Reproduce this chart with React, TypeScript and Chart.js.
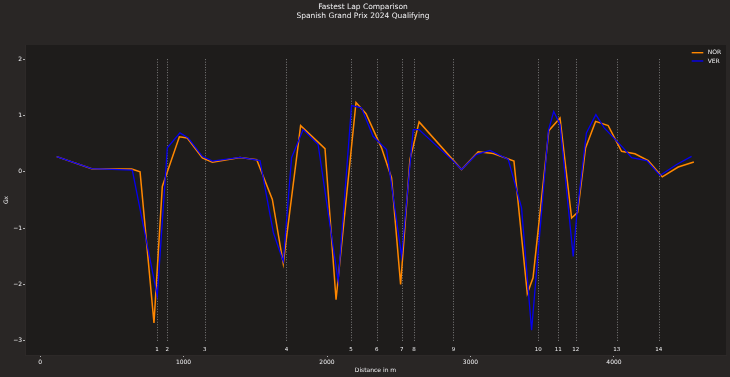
import React, { useEffect, useRef } from "react";
import { Chart, registerables } from "chart.js";

Chart.register(...registerables);

// ---- data ----
const TITLE_LINES = ["Fastest Lap Comparison", "Spanish Grand Prix 2024 Qualifying"];
const X_LABEL = "Distance in m";
const Y_LABEL = "Gx";

const DRIVERS = ["NOR", "VER"];
const DRIVER_COLORS = ["#ff8700", "#0600ef"];

const NOR_DIST = [116, 360, 639, 697, 794, 852, 971, 1026, 1131, 1201, 1394, 1510, 1619, 1695, 1816, 1986, 2063, 2202, 2272, 2380, 2450, 2513, 2578, 2642, 2938, 3054, 3159, 3303, 3396, 3436, 3546, 3624, 3705, 3747, 3802, 3872, 3960, 4053, 4146, 4239, 4337, 4448, 4557];
const NOR_GX = [0.27, 0.055, 0.05, 0.0, -2.68, -0.26, 0.62, 0.6, 0.245, 0.17, 0.255, 0.215, -0.49, -1.63, 0.82, 0.41, -2.27, 1.23, 1.03, 0.425, -0.11, -2.0, 0.215, 0.885, 0.04, 0.355, 0.325, 0.19, -2.16, -1.88, 0.73, 0.955, -0.82, -0.72, 0.425, 0.895, 0.82, 0.365, 0.32, 0.2, -0.09, 0.085, 0.175];

const VER_DIST = [116, 360, 643, 817, 887, 975, 1033, 1131, 1201, 1394, 1533, 1626, 1695, 1753, 1834, 1938, 2078, 2171, 2240, 2321, 2415, 2520, 2601, 2641, 2880, 2938, 3043, 3136, 3263, 3356, 3426, 3543, 3580, 3624, 3716, 3740, 3808, 3874, 3932, 4064, 4123, 4228, 4321, 4437, 4541];
const VER_GX = [0.27, 0.055, 0.03, -2.2, 0.425, 0.69, 0.6, 0.275, 0.19, 0.255, 0.2, -1.08, -1.59, 0.25, 0.75, 0.485, -1.94, 1.175, 1.135, 0.63, 0.395, -1.5, 0.75, 0.75, 0.19, 0.04, 0.31, 0.38, 0.22, -0.64, -2.81, 0.73, 1.07, 0.84, -1.5, -0.79, 0.69, 1.015, 0.78, 0.425, 0.25, 0.2, -0.065, 0.13, 0.275];

const CORNER_LABELS = ["1", "2", "3", "4", "5", "6", "7", "8", "9", "10", "11", "12", "13", "14"];
const CORNER_DIST = [815, 887, 1148, 1717, 2168, 2347, 2521, 2607, 2881, 3473, 3612, 3733, 4020, 4312];

const X_TICKS = [0, 1000, 2000, 3000, 4000];
const Y_TICKS = [-3, -2, -1, 0, 1, 2];

const X_MIN = -105;
const X_MAX = 4781;
const Y_MIN = -3.25;
const Y_MAX = 2.25;
const VLINE_MIN = -3.0;
const VLINE_MAX = 2.0;
const CORNER_TEXT_Y = -3.15;

// ---- style ----
const FIG_BG = "#292625";
const AX_BG = "#1e1c1b";
const TEXT = "#f1f1f3";
const FONT = "'DejaVu Sans', sans-serif";

const axesBgPlugin = {
  id: "axesBg",
  beforeDraw(chart: any) {
    const { ctx, chartArea } = chart;
    ctx.save();
    ctx.fillStyle = AX_BG;
    ctx.fillRect(chartArea.left, chartArea.top, chartArea.right - chartArea.left, chartArea.bottom - chartArea.top);
    ctx.restore();
  },
};

const cornersPlugin = {
  id: "corners",
  beforeDatasetsDraw(chart: any) {
    const { ctx } = chart;
    const xs = chart.scales.x;
    const ys = chart.scales.y;
    ctx.save();
    ctx.strokeStyle = "#7a7a7a";
    ctx.lineWidth = 1;
    ctx.setLineDash([1, 1.6]);
    const y0 = ys.getPixelForValue(VLINE_MIN);
    const y1 = ys.getPixelForValue(VLINE_MAX);
    CORNER_DIST.forEach((d) => {
      const x = Math.round(xs.getPixelForValue(d)) + 0.5;
      ctx.beginPath();
      ctx.moveTo(x, y0);
      ctx.lineTo(x, y1);
      ctx.stroke();
    });
    ctx.setLineDash([]);
    ctx.fillStyle = TEXT;
    ctx.font = `5.5px ${FONT}`;
    ctx.textAlign = "center";
    ctx.textBaseline = "middle";
    const ty = ys.getPixelForValue(CORNER_TEXT_Y);
    CORNER_DIST.forEach((d, i) => {
      ctx.fillText(CORNER_LABELS[i], xs.getPixelForValue(d), ty);
    });
    ctx.restore();
  },
};

const legendPlugin = {
  id: "customLegend",
  afterDatasetsDraw(chart: any) {
    const { ctx, chartArea } = chart;
    ctx.save();
    ctx.font = `6px ${FONT}`;
    ctx.textAlign = "left";
    ctx.textBaseline = "middle";
    chart.data.datasets.forEach((ds: any, i: number) => {
      const y = chartArea.top + 7.7 + i * 8.3;
      ctx.strokeStyle = ds.borderColor;
      ctx.lineWidth = 1.4;
      ctx.beginPath();
      ctx.moveTo(chartArea.right - 34.3, y);
      ctx.lineTo(chartArea.right - 22.7, y);
      ctx.stroke();
      ctx.fillStyle = TEXT;
      ctx.fillText(ds.label, chartArea.right - 18.3, y);
    });
    ctx.restore();
  },
};

const toPts = (xs: number[], ys: number[]) => xs.map((x, i) => ({ x, y: ys[i] }));

export default function App() {
  const ref = useRef<HTMLCanvasElement>(null);

  useEffect(() => {
    const canvas = ref.current;
    if (!canvas) return;
    const chart = new Chart(canvas, {
      type: "line",
      data: {
        datasets: [
          {
            label: DRIVERS[0],
            data: toPts(NOR_DIST, NOR_GX),
            borderColor: DRIVER_COLORS[0],
            backgroundColor: DRIVER_COLORS[0],
            borderWidth: 1.5,
            pointRadius: 0,
            tension: 0,
            fill: false,
            order: 2,
          },
          {
            label: DRIVERS[1],
            data: toPts(VER_DIST, VER_GX),
            borderColor: DRIVER_COLORS[1],
            backgroundColor: DRIVER_COLORS[1],
            borderWidth: 1.3,
            pointRadius: 0,
            tension: 0,
            fill: false,
            order: 1,
          },
        ],
      },
      options: {
        responsive: false,
        devicePixelRatio: 1,
        animation: false,
        layout: { padding: { top: 0, left: 0, right: 4, bottom: 0 } },
        plugins: {
          legend: { display: false },
          tooltip: { enabled: false },
          title: {
            display: true,
            text: TITLE_LINES,
            color: TEXT,
            font: { family: FONT, size: 7.5, weight: "normal", lineHeight: 1.2 },
            padding: { top: 2.2, bottom: 24.8 },
          },
        },
        scales: {
          x: {
            type: "linear",
            min: X_MIN,
            max: X_MAX,
            afterBuildTicks: (s: any) => {
              s.ticks = X_TICKS.map((v) => ({ value: v }));
            },
            ticks: {
              color: TEXT,
              font: { family: FONT, size: 6 },
              padding: 2,
              maxRotation: 0,
              autoSkip: false,
              callback: (v: any) => String(v),
            },
            grid: { drawOnChartArea: false, drawTicks: true, tickLength: 2, tickColor: "#b0b0b0" },
            border: { display: true, color: "#2d2928" },
            title: {
              display: true,
              text: X_LABEL,
              color: TEXT,
              font: { family: FONT, size: 6 },
              padding: { top: 0, bottom: 2.7 },
            },
            afterFit: (s: any) => {
              s.height = 22;
            },
          },
          y: {
            type: "linear",
            min: Y_MIN,
            max: Y_MAX,
            afterBuildTicks: (s: any) => {
              s.ticks = Y_TICKS.map((v) => ({ value: v }));
            },
            ticks: {
              color: TEXT,
              font: { family: FONT, size: 6 },
              padding: 1,
              autoSkip: false,
              callback: (v: any) => String(v).replace("-", "\u2212"),
            },
            grid: { drawOnChartArea: false, drawTicks: true, tickLength: 2, tickColor: "#b0b0b0" },
            border: { display: true, color: "#2d2928" },
            title: {
              display: true,
              text: Y_LABEL,
              color: TEXT,
              font: { family: FONT, size: 6 },
              padding: { top: 2.4, bottom: 0 },
            },
            afterFit: (s: any) => {
              s.width = 25;
            },
          },
        },
      } as any,
      plugins: [axesBgPlugin, cornersPlugin, legendPlugin],
    });
    return () => chart.destroy();
  }, []);

  return (
    <div style={{ position: "fixed", left: 0, top: 0, width: 730, height: 377, background: FIG_BG }}>
      <canvas ref={ref} width={730} height={377} style={{ display: "block", width: 730, height: 377 }} />
    </div>
  );
}
